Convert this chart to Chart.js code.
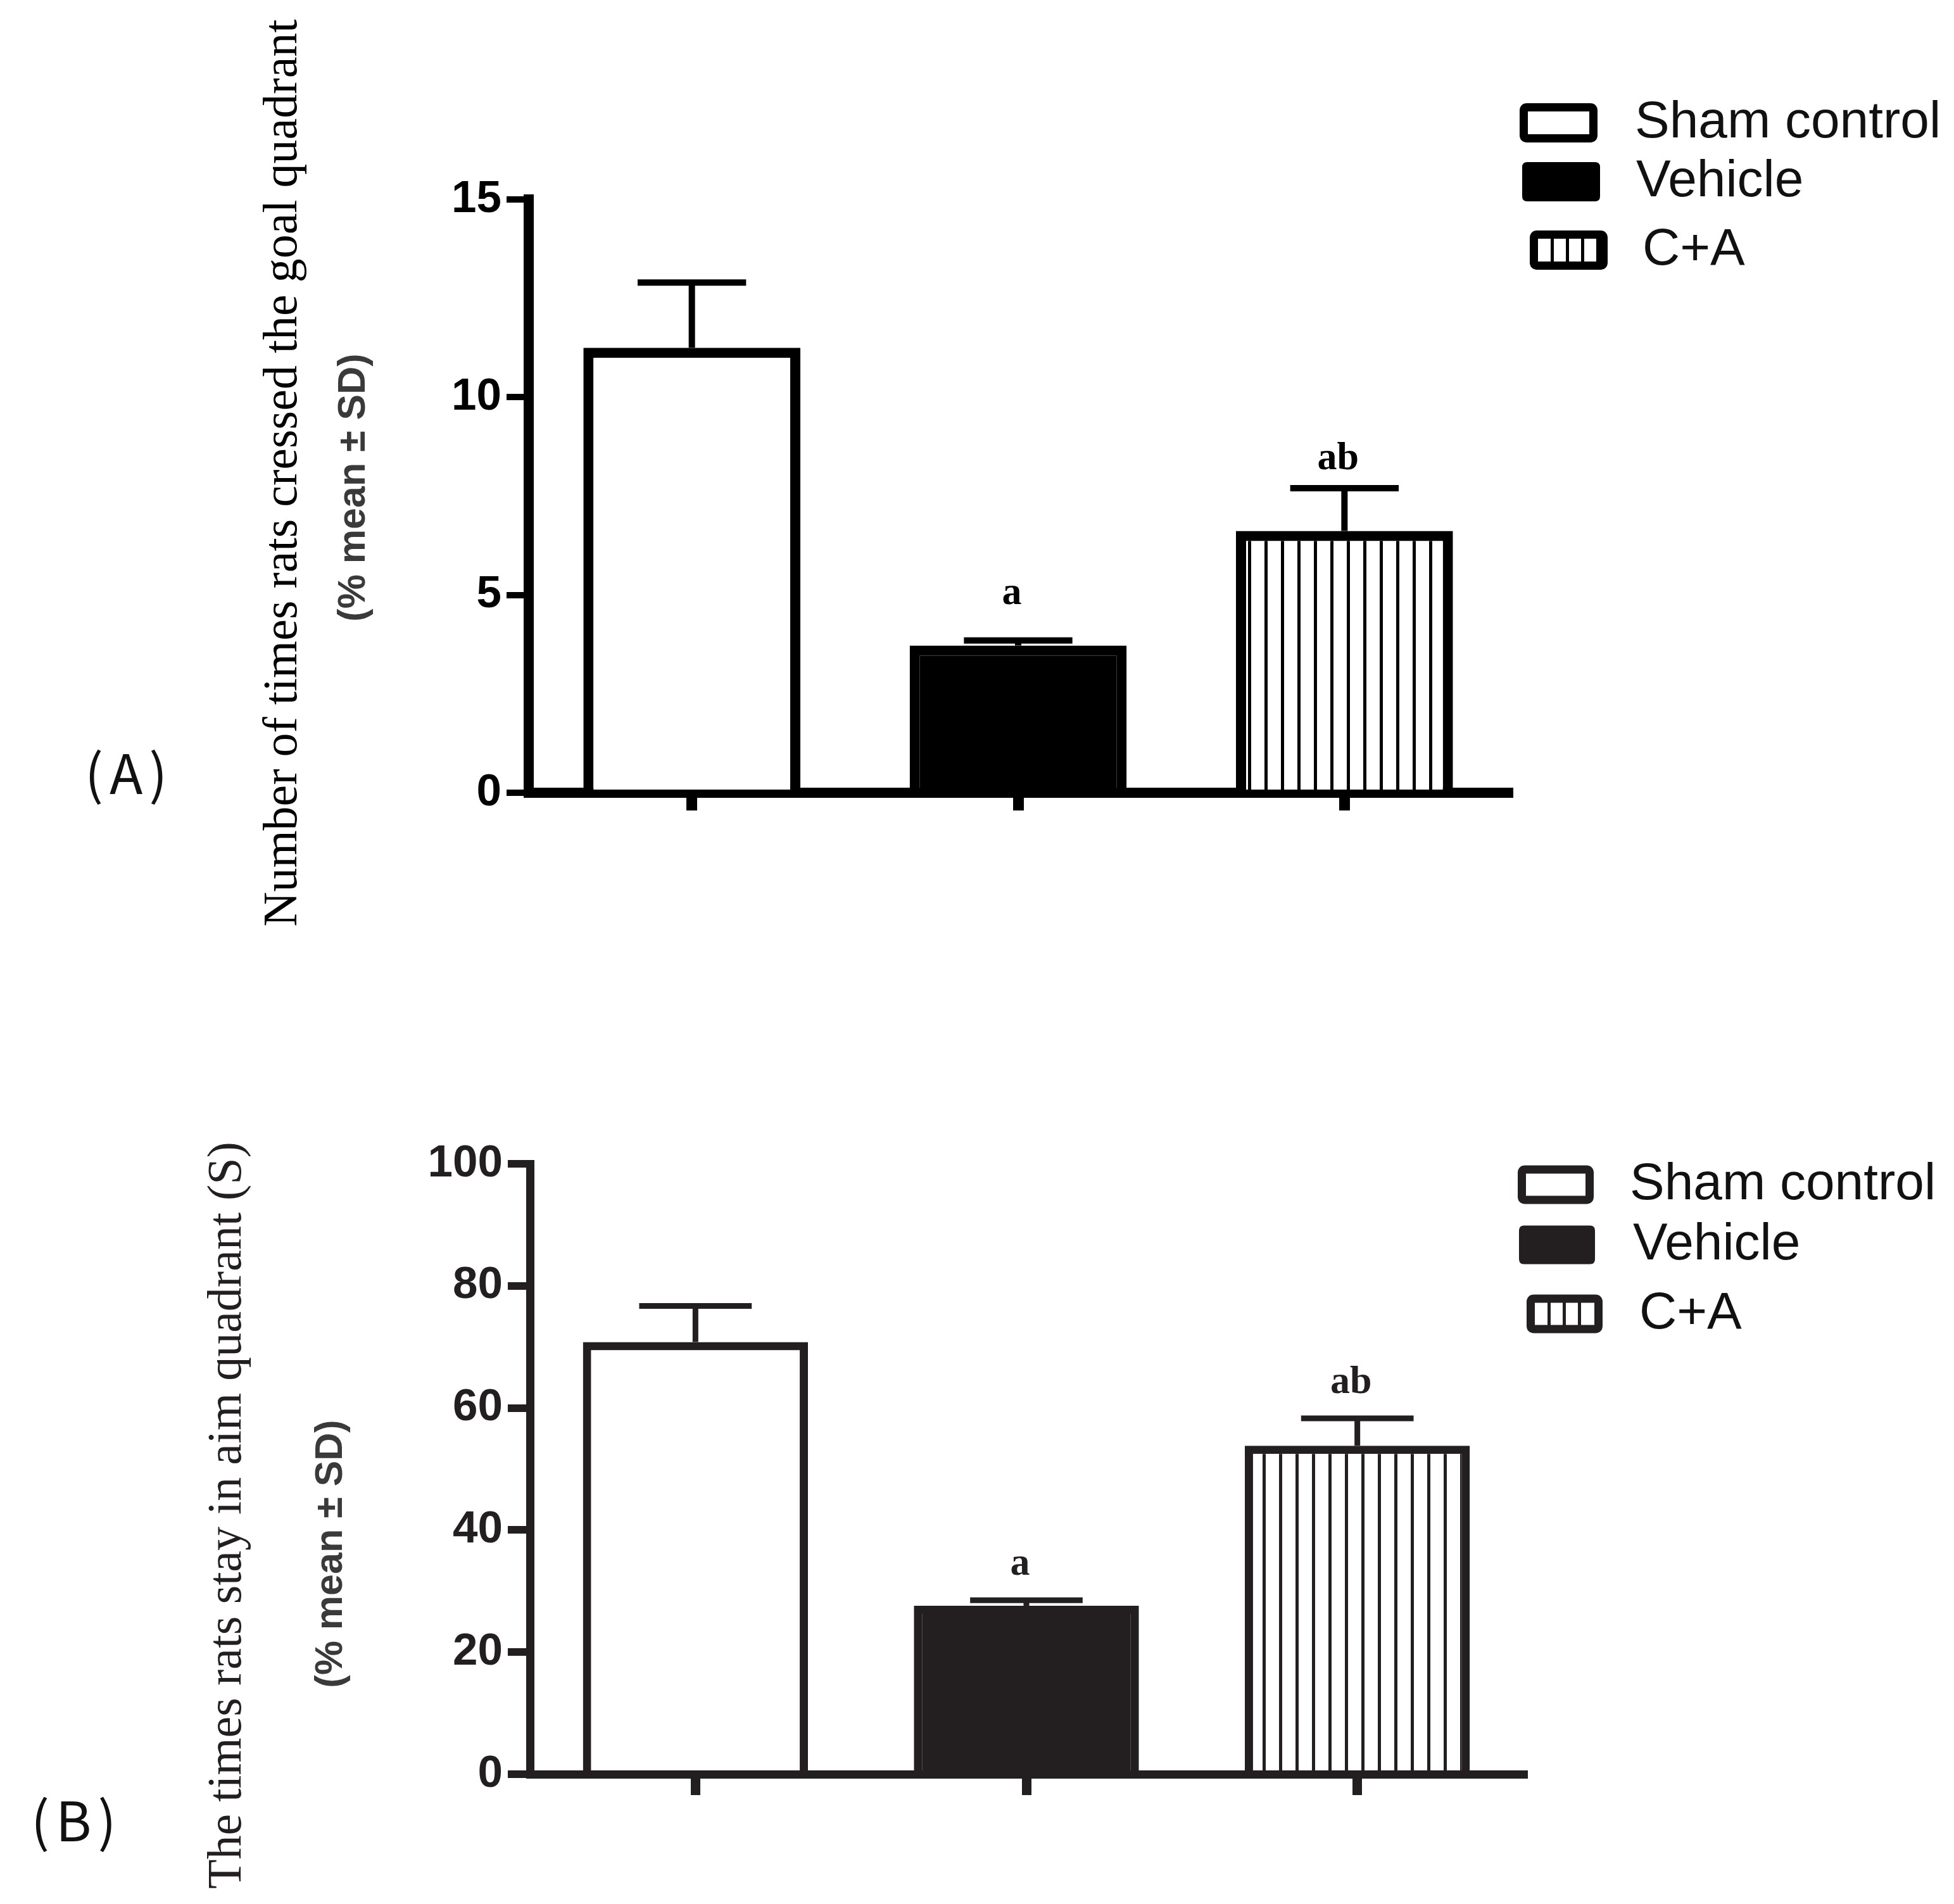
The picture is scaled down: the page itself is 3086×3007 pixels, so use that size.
<!DOCTYPE html>
<html><head><meta charset="utf-8">
<script src="https://cdn.jsdelivr.net/npm/chart.js@4.4.1/dist/chart.umd.min.js"></script>
<style>
html,body{margin:0;padding:0;background:#fff;}
#wrap{position:relative;width:3086px;height:3007px;background:#fff;}
canvas{position:absolute;left:0;}
</style>
</head><body>
<div id="wrap">
<canvas id="cA" width="3086" height="1500" style="top:0px;width:3086px;height:1500px"></canvas>
<canvas id="cB" width="3086" height="1507" style="top:1500px;width:3086px;height:1507px"></canvas>
</div>
<script>
// ---------- data ----------
const groups = ['Sham control', 'Vehicle', 'C+A'];

const crossingTitle = 'Number of times rats cressed the goal quadrant';
const crossingSubtitle = '(% mean \u00B1 SD)';
const crossingMeans = [11.25, 3.72, 6.62];
const crossingSD = [1.65, 0.13, 1.08];
const crossingLetters = ['', 'a', 'ab'];
const crossingMax = 15;
const crossingStep = 5;

const stayTitle = 'The times rats stay in aim quadrant (S)';
const staySubtitle = '(% mean \u00B1 SD)';
const stayMeans = [70.8, 27.6, 53.8];
const staySD = [5.9, 0.9, 4.5];
const stayLetters = ['', 'a', 'ab'];
const stayMax = 100;
const stayStep = 20;

const panelTags = ['(A)', '(B)'];

// ---------- styles ----------
const SANS = '"Liberation Sans", Arial, Helvetica, sans-serif';
const SERIF = '"Liberation Serif", "Times New Roman", serif';
const CJK = '"Noto Sans CJK SC", "Noto Sans", sans-serif';

const styleA = {
  color: '#000000', H: 1500, area: {left: 835, right: 2381, top: 315, bottom: 1252},
  yW: 220, xH: 50, border: 16, barBorder: 16, tickW: 10, tickL: 35, xTickW: 17, xTickL: 28,
  errW: 10, barPct: 0.665, stripeOff: 21,
  titleX: 468, titleY: 747, subX: 576, subY: 770, tagX: 134, tagY: 1254,
  legRows: [194, 287, 395], legBoxX: [2400, 2404, 2416], legTextX: [2582, 2584, 2594],
  legBoxW: 123, legBoxH: 62, letterGaps: [40, 58, 30]
};
const styleB = {
  color: '#231f20', H: 1507, area: {left: 837, right: 2405, top: 338, bottom: 1302},
  yW: 220, xH: 50, border: 13, barBorder: 13, tickW: 12, tickL: 35, xTickW: 15, xTickL: 33,
  errW: 9, barPct: 0.68, stripeOff: 18,
  titleX: 380, titleY: 893, subX: 540, subY: 954, tagX: 49, tagY: 1408,
  legRows: [371, 466, 575], legBoxX: [2397, 2399, 2411], legTextX: [2574, 2579, 2589],
  legBoxW: 120, legBoxH: 61, letterGaps: [40, 40, 40]
};

function stripePattern(color, period, offset, lw) {
  const c = document.createElement('canvas');
  c.width = period; c.height = 8;
  const g = c.getContext('2d');
  g.fillStyle = '#ffffff'; g.fillRect(0, 0, period, 8);
  g.fillStyle = color; g.fillRect(offset % period, 0, lw, 8);
  return g.createPattern(c, 'repeat');
}

function roundRect(ctx, x, y, w, h, r) {
  ctx.beginPath();
  ctx.moveTo(x + r, y);
  ctx.lineTo(x + w - r, y); ctx.quadraticCurveTo(x + w, y, x + w, y + r);
  ctx.lineTo(x + w, y + h - r); ctx.quadraticCurveTo(x + w, y + h, x + w - r, y + h);
  ctx.lineTo(x + r, y + h); ctx.quadraticCurveTo(x, y + h, x, y + h - r);
  ctx.lineTo(x, y + r); ctx.quadraticCurveTo(x, y, x + r, y);
  ctx.closePath();
}

function makePanel(canvasId, means, sds, letters, maxV, stepV, title, subtitle, tag, st) {
  const pattern = stripePattern(st.color, 26, st.stripeOff, 5);
  const W = 3086;

  const extras = {
    id: 'extras_' + canvasId,
    afterDatasetsDraw(chart) {
      const ctx = chart.ctx;
      const meta = chart.getDatasetMeta(0);
      const ys = chart.scales.y;
      ctx.save();
      meta.data.forEach((bar, i) => {
        const top = ys.getPixelForValue(means[i] + sds[i]);
        const half = bar.width / 4;
        ctx.strokeStyle = st.color;
        ctx.lineWidth = st.errW;
        ctx.lineCap = 'butt';
        ctx.beginPath();
        ctx.moveTo(bar.x, bar.y);
        ctx.lineTo(bar.x, top);
        ctx.moveTo(bar.x - half, top);
        ctx.lineTo(bar.x + half, top);
        ctx.stroke();
        if (letters[i]) {
          ctx.fillStyle = st.color;
          ctx.font = 'bold 62px ' + SERIF;
          ctx.textAlign = 'center';
          ctx.textBaseline = 'alphabetic';
          ctx.fillText(letters[i], bar.x - 10, top - st.letterGaps[i]);
        }
      });
      ctx.restore();
    },
    afterDraw(chart) {
      const ctx = chart.ctx;
      ctx.save();
      // axis titles (rotated)
      ctx.fillStyle = st.color;
      ctx.textAlign = 'center';
      ctx.textBaseline = 'alphabetic';
      ctx.save();
      ctx.translate(st.titleX, st.titleY);
      ctx.rotate(-Math.PI / 2);
      ctx.font = '76px ' + SERIF;
      ctx.fillText(title, 0, 0);
      ctx.restore();
      ctx.save();
      ctx.translate(st.subX, st.subY);
      ctx.rotate(-Math.PI / 2);
      ctx.font = 'bold 61px ' + SANS;
      ctx.fillStyle = '#3a3a3a';
      ctx.fillText(subtitle, 0, 0);
      ctx.restore();
      // panel tag
      ctx.fillStyle = '#111111';
      ctx.textAlign = 'left';
      ctx.font = '86px ' + CJK;
      try { ctx.letterSpacing = '10px'; } catch (e) {}
      ctx.fillText(tag, st.tagX, st.tagY);
      try { ctx.letterSpacing = '0px'; } catch (e) {}
      // legend
      groups.forEach((name, i) => {
        const bx = st.legBoxX[i], cy = st.legRows[i];
        const bw = st.legBoxW, bh = st.legBoxH;
        const by = cy - bh / 2;
        const lw = 13;
        if (i === 1) {
          ctx.fillStyle = st.color;
          roundRect(ctx, bx, by, bw, bh, 8);
          ctx.fill();
        } else {
          ctx.fillStyle = '#ffffff';
          roundRect(ctx, bx, by, bw, bh, 8);
          ctx.fill();
          if (i === 2) {
            ctx.fillStyle = st.color;
            for (let sx = bx + lw + 20; sx < bx + bw - lw - 4; sx += 24) {
              ctx.fillRect(sx, by + lw / 2, 5, bh - lw);
            }
          }
          ctx.strokeStyle = st.color;
          ctx.lineWidth = lw;
          roundRect(ctx, bx + lw / 2, by + lw / 2, bw - lw, bh - lw, 5);
          ctx.stroke();
        }
        ctx.fillStyle = '#111111';
        ctx.font = '82px ' + SANS;
        ctx.textAlign = 'left';
        ctx.textBaseline = 'middle';
        ctx.fillText(name, st.legTextX[i], cy);
      });
      ctx.restore();
    }
  };

  return new Chart(document.getElementById(canvasId), {
    type: 'bar',
    data: {
      labels: groups,
      datasets: [{
        label: title,
        data: means,
        backgroundColor: ['#ffffff', st.color, pattern],
        borderColor: st.color,
        borderWidth: st.barBorder,
        borderSkipped: 'start',
        barPercentage: st.barPct,
        categoryPercentage: 1.0
      }]
    },
    options: {
      responsive: false,
      animation: false,
      devicePixelRatio: 1,
      layout: {
        padding: {
          left: st.area.left - st.yW,
          right: W - st.area.right,
          top: st.area.top,
          bottom: st.H - st.area.bottom - st.xH
        }
      },
      plugins: { legend: { display: false }, tooltip: { enabled: false }, title: { display: false } },
      scales: {
        x: {
          type: 'category',
          offset: true,
          z: 1,
          afterFit(s) { s.height = st.xH; },
          ticks: { display: false },
          grid: {
            display: true, offset: false, drawOnChartArea: false, drawTicks: true,
            tickLength: st.xTickL, tickWidth: st.xTickW, tickColor: st.color, color: st.color, lineWidth: st.xTickW
          },
          border: { display: true, width: st.border, color: st.color }
        },
        y: {
          min: 0, max: maxV,
          afterFit(s) { s.width = st.yW; },
          ticks: {
            stepSize: stepV, color: st.color, padding: 8,
            font: { family: SANS, size: 71, weight: 'bold' }
          },
          grid: {
            display: true, drawOnChartArea: false, drawTicks: true,
            tickLength: st.tickL, tickWidth: st.tickW, tickColor: st.color, color: st.color, lineWidth: st.tickW
          },
          border: { display: true, width: st.border, color: st.color }
        }
      }
    },
    plugins: [extras]
  });
}

makePanel('cA', crossingMeans, crossingSD, crossingLetters, crossingMax, crossingStep,
  crossingTitle, crossingSubtitle, panelTags[0], styleA);
makePanel('cB', stayMeans, staySD, stayLetters, stayMax, stayStep,
  stayTitle, staySubtitle, panelTags[1], styleB);
</script>
</body></html>
